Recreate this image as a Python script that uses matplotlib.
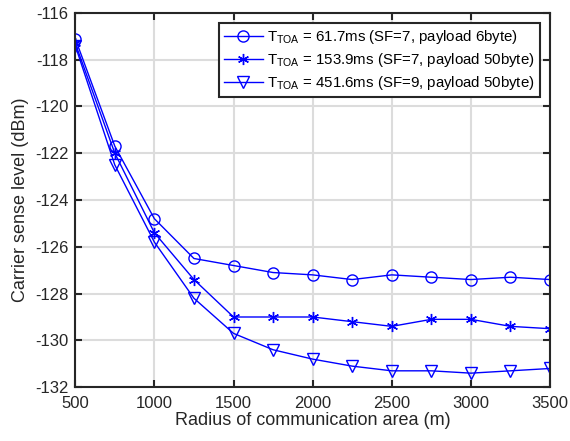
import numpy as np
import matplotlib
matplotlib.use('Agg')
from matplotlib import pyplot as plt

plt.rcParams['font.family'] = 'Liberation Sans'
plt.rcParams['mathtext.fontset'] = 'custom'
plt.rcParams['mathtext.rm'] = 'Liberation Sans'
plt.rcParams['mathtext.it'] = 'Liberation Sans'
plt.rcParams['axes.unicode_minus'] = False

# radius of communication area [m]
radius = [500, 750, 1000, 1250, 1500, 1750, 2000, 2250, 2500, 2750, 3000, 3250, 3500]

# carrier sense level [dBm]
cs_sf7_6byte = [-117.1, -121.7, -124.8, -126.5, -126.8, -127.1, -127.2, -127.4, -127.2, -127.3, -127.4, -127.3, -127.4]
cs_sf7_50byte = [-117.3, -122.0, -125.4, -127.4, -129.0, -129.0, -129.0, -129.2, -129.4, -129.1, -129.1, -129.4, -129.5]
cs_sf9_50byte = [-117.4, -122.5, -125.8, -128.2, -129.7, -130.4, -130.8, -131.1, -131.3, -131.3, -131.4, -131.3, -131.2]

labels = [r'T$_{\mathrm{TOA}}$ = 61.7ms (SF=7, payload 6byte)',
          r'T$_{\mathrm{TOA}}$ = 153.9ms (SF=7, payload 50byte)',
          r'T$_{\mathrm{TOA}}$ = 451.6ms (SF=9, payload 50byte)']

fig = plt.figure(figsize=(5.7, 4.41), dpi=100)
ax = fig.add_axes([0.132, 0.122, 0.833, 0.849])

blue = '#0000ff'
ax.plot(radius, cs_sf7_6byte, '-o', color=blue, mfc='none', ms=8, lw=1, label=labels[0])
ax.plot(radius, cs_sf7_50byte, '-', marker=(6, 2, 0), color=blue, ms=8, mew=1, lw=1, label=labels[1])
ax.plot(radius, cs_sf9_50byte, '-v', color=blue, mfc='none', ms=8, lw=1, label=labels[2])

ax.set_xlim([500, 3500])
ax.set_ylim([-132, -116])
ax.set_xticks(np.arange(500, 3501, 500))
ax.set_yticks(np.arange(-132, -115, 2))
ax.grid(color='#dcdcdc', lw=1.5)
ax.set_axisbelow(True)
ax.tick_params(direction='in', top=True, right=True, labelsize=12, length=5, width=1.5, colors='#262626')
ax.tick_params(axis='x', pad=6)
ax.tick_params(axis='y', pad=5)
for sp in ax.spines.values():
    sp.set_linewidth(1.5)
    sp.set_color('#262626')

ax.set_xlabel('Radius of communication area (m)', fontsize=13, color='#262626', labelpad=1)
ax.set_ylabel('Carrier sense level (dBm)', fontsize=13, color='#262626', labelpad=4)

leg = ax.legend(loc='upper right', fontsize=10.8, fancybox=False, framealpha=1,
                edgecolor='#262626', borderaxespad=0.7, handlelength=2.6,
                handletextpad=0.3, labelspacing=0.35, borderpad=0.3)
leg.get_frame().set_linewidth(1.5)

plt.savefig('out.png', dpi=100)
